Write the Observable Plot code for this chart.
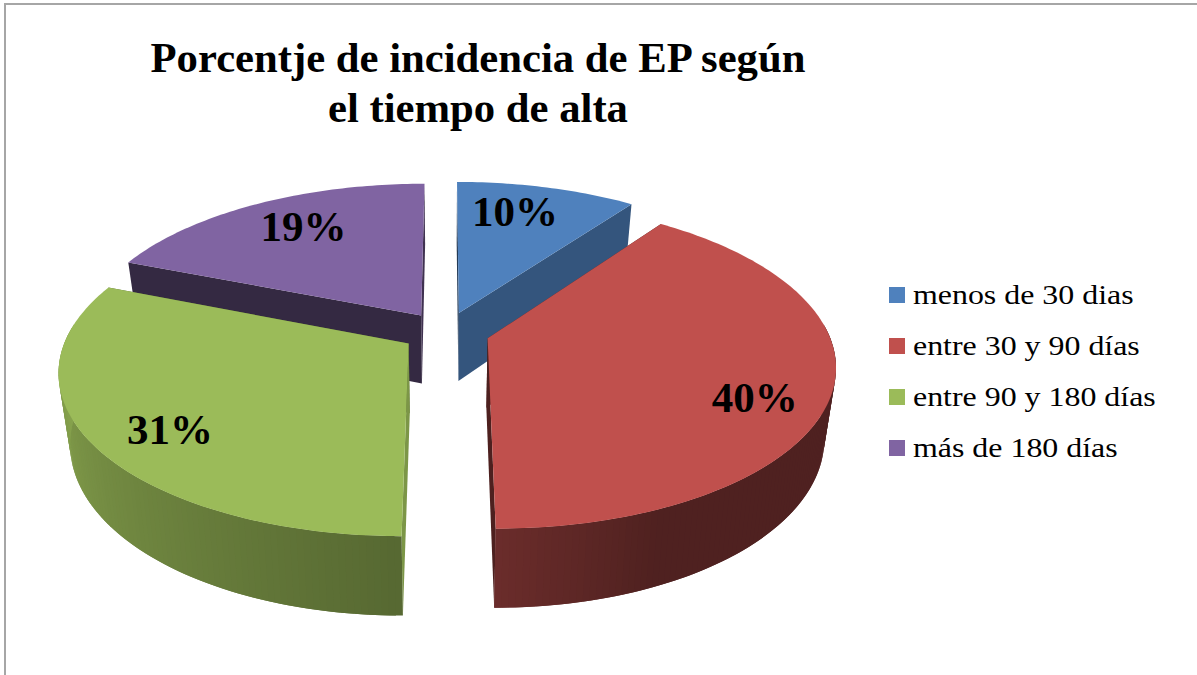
<!DOCTYPE html>
<html lang="es">
<head>
<meta charset="utf-8">
<script src="https://cdn.jsdelivr.net/npm/d3@7"></script>
<script src="https://cdn.jsdelivr.net/npm/@observablehq/plot@0.6"></script>
<style>
  html, body { margin: 0; padding: 0; background: #fff; }
  #page { position: relative; width: 1197px; height: 675px; overflow: hidden; font-family: "Liberation Serif", serif; color: #000; }
  #chart svg { display: block; }
  #edge { position: absolute; left: 4px; top: 3px; right: 0; bottom: 0; border-left: 2px solid #a6a6a6; border-top: 2px solid #a6a6a6; }
  #title { position: absolute; left: 78px; width: 800px; top: 33px; text-align: center; font-weight: bold; font-size: 42.7px; line-height: 50px; }
  #legend { position: absolute; left: 889px; top: 269px; font-size: 27.7px; }
  .row { display: flex; align-items: center; height: 51.2px; white-space: nowrap; }
  .key { width: 16px; height: 16px; margin-right: 8px; flex: none; }
  .txt { display: inline-block; transform: scaleX(1.152); transform-origin: left center; }
</style>
</head>
<body>
<div id="page">
  <div id="chart"></div>
  <div id="edge"></div>
  <div id="title"></div>
  <div id="legend"></div>
</div>
<script>
// ---- data ----
const titleLines = ["Porcentje de incidencia de EP según", "el tiempo de alta"];
const categories = ["menos de 30 dias", "entre 30 y 90 días", "entre 90 y 180 días", "más de 180 días"];
const percents = [10, 40, 31, 19];
const colors = ["#4f81bd", "#c0504d", "#9bbb59", "#8064a2"];

// ---- drawing style: 3D pie projection ----
const W = 1197, H = 675;
const cx = 445, cy = 331.5, R = 340.5, explode = 44;
const squash = 0.463, persp = 0.16, depth = 69, bottomNarrow = 0.97;
const drawOrder = [0, 3, 2, 1];               // back to front
const faceShade = [[.45, .66], [.4, .4], [.8, .55], [.41, .5]]; // start / end cut faces
const labelRadius = [.77, .81, .8, .75];
const labelTurn = [-3.5, 8, -4, 2.5];
const sideShade = d3.scaleLinear().domain([0, 155, 180, 270, 360]).range([.41, .41, .56, .88, .6]);

const rad = d => d * Math.PI / 180;
const scale = Y => 1 / (1 + persp * Y / R);
const project = (X, Y, down) => {
  const s = scale(Y);
  return {
    x: cx + X * s * (down ? bottomNarrow : 1),
    y: cy - squash * Y * s + (down ? depth * Math.pow(s, .75) : 0)
  };
};
const shade = (hex, k) => { const c = d3.rgb(hex); return d3.rgb(c.r * k, c.g * k, c.b * k).formatHex(); };

// slice angles from the values
let sum = 0;
const total = d3.sum(percents);
const slices = percents.map((v, i) => {
  const a0 = sum / total * 360; sum += v; const a1 = sum / total * 360;
  const mid = rad((a0 + a1) / 2);
  return {i, v, a0, a1, ox: explode * Math.sin(mid), oy: explode * Math.cos(mid), color: colors[i]};
});
const rim = (s, a, f = 1) => [s.ox + f * R * Math.sin(rad(a)), s.oy + f * R * Math.cos(rad(a))];

// polygons
const polys = [];
let id = 0;
const addPoly = (world, color) => {
  const k = id++;
  for (const [X, Y, down] of world) polys.push({id: k, ...project(X, Y, down), color});
};
for (const i of drawOrder) {
  const s = slices[i];
  const steps = d3.range(s.a0, s.a1, 1).concat(s.a1);
  const faces = [[s.a0, faceShade[i][0]], [s.a1, faceShade[i][1]]]
    .sort((a, b) => rim(s, b[0])[1] - rim(s, a[0])[1]);
  for (const [a, k] of faces) {
    const [X, Y] = rim(s, a);
    addPoly([[s.ox, s.oy, 0], [X, Y, 0], [X, Y, 1], [s.ox, s.oy, 1]], shade(s.color, k));
  }
  for (let j = 0; j < steps.length - 1; j++) {
    if (Math.abs(steps[j] - 180) > 95) continue; // hidden back of the rim
    const p = rim(s, steps[j]), q = rim(s, steps[Math.min(j + 2, steps.length - 1)]);
    addPoly([[...p, 0], [...q, 0], [...q, 1], [...p, 1]], shade(s.color, sideShade(steps[j])));
  }
  addPoly([[s.ox, s.oy, 0], ...steps.map(a => [...rim(s, a), 0])], s.color);
}

const labels = slices.map((s, i) => {
  const a = (s.a0 + s.a1) / 2 + labelTurn[i];
  const [X, Y] = rim(s, a, labelRadius[i]);
  return {...project(X, Y, 0), text: s.v + "%"};
});

const plot = Plot.plot({
  width: W, height: H, margin: 0,
  x: {domain: [0, W], axis: null},
  y: {domain: [H, 0], axis: null},
  color: {type: "identity"},
  marks: [
    Plot.line(polys, {x: "x", y: "y", z: "id", fill: "color", stroke: "none", curve: "linear-closed"}),
    Plot.text(labels, {x: "x", y: "y", text: "text", fontFamily: "Liberation Serif", fontWeight: "bold", fontSize: 43, fill: "#000"})
  ]
});
document.getElementById("chart").append(plot);

document.getElementById("title").innerHTML = titleLines.join("<br>");
const legend = document.getElementById("legend");
categories.forEach((c, i) => {
  const row = document.createElement("div"); row.className = "row";
  const key = document.createElement("span"); key.className = "key"; key.style.background = colors[i];
  const txt = document.createElement("span"); txt.className = "txt"; txt.textContent = c;
  row.append(key, txt); legend.append(row);
});
</script>
</body>
</html>
